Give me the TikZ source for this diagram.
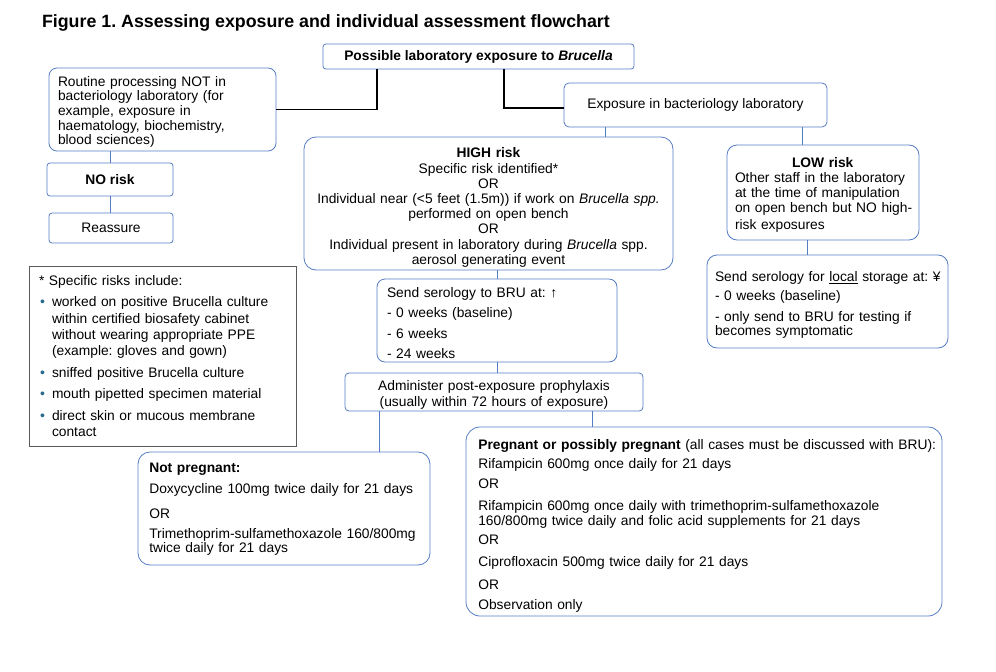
\documentclass[tikz,border=0pt]{standalone}
\usepackage{fontspec}
\setmainfont{Liberation Sans}
\usepackage{xcolor}
\frenchspacing

\definecolor{boxblue}{RGB}{84,124,196}
\definecolor{notegray}{RGB}{90,90,90}
\definecolor{dotblue}{RGB}{40,105,140}

\newcommand{\bul}{\hspace*{1pt}\makebox[12pt][l]{\textcolor{dotblue}{\fontsize{14}{14}\selectfont\textbullet}}}
\newcommand{\bulsp}{\hspace*{13pt}}

\tikzset{
  flowbox/.style={draw=boxblue, line width=0.8pt, rounded corners=#1, inner xsep=3pt, inner ysep=2pt, font=\fontsize{13.8}{14.6}\selectfont},
  flowbox/.default=8pt,
  indent/.style={align=left, execute at begin node={\leftskip=#1\rightskip=-10pt plus 1fil\relax}},
  sink/.style={execute at end node={\par\kern-#1}},
  link/.style={boxblue, line width=0.8pt},
  mainlink/.style={black, line width=1.2pt},
}

\begin{document}
\begin{tikzpicture}[x=1pt,y=-1pt]
\useasboundingbox (0,0) rectangle (996,672);

% title
\node[anchor=base west, font=\fontsize{17.8}{20}\selectfont\bfseries] (title) at (38.5,27) {Figure 1. Assessing exposure and individual assessment flowchart};

% first level
\node[flowbox=3pt, minimum width=311pt, minimum height=25pt] (possible) at (478.5,56.5) {\textbf{Possible laboratory exposure to \textit{Brucella}}};
\node[flowbox=8pt, indent=6pt, sink=5pt, text width=221pt, minimum height=83pt] (routine) at (162.5,109.5) {Routine processing NOT in\\ bacteriology laboratory (for\\ example, exposure in\\ haematology, biochemistry,\\ blood sciences)};
\node[flowbox=5pt, minimum width=263pt, minimum height=44pt] (bacti) at (695.5,105) {Exposure in bacteriology laboratory};

% no risk branch
\node[flowbox=3pt, minimum width=126pt, minimum height=33pt] (norisk) at (110,179.5) {\textbf{NO risk}};
\node[flowbox=3pt, minimum width=124pt, minimum height=30pt] (reassure) at (111,228) {Reassure};

% risk levels
\node[flowbox=12pt, align=center, sink=8pt, text width=363pt, minimum height=133pt, font=\fontsize{13.8}{15.2}\selectfont] (high) at (488.5,203.5) {\textbf{HIGH risk}\\ Specific risk identified*\\ OR\\ Individual near (<5 feet (1.5m)) if work on \textit{Brucella spp.}\\ performed on open bench\\ OR\\ Individual present in laboratory during \textit{Brucella} spp.\\ aerosol generating event};
\node[flowbox=10pt, indent=5pt, sink=5pt, text width=186pt, minimum height=95pt, font=\fontsize{13.8}{15}\selectfont] (low) at (823,192.5) {\hspace*{57pt}\textbf{LOW risk}\\ Other staff in the laboratory\\ at the time of manipulation\\ on open bench but NO high-\\[2pt] risk exposures};

% serology
\node[flowbox=8pt, indent=7pt, sink=5pt, text width=234pt, minimum height=83pt, font=\fontsize{13.8}{14.5}\selectfont] (bru) at (497,320.5) {Send serology to BRU at: ↑\\[6pt] - 0 weeks (baseline)\\[6pt] - 6 weeks\\[6pt] - 24 weeks};
\node[flowbox=10pt, indent=5pt, sink=7pt, text width=235pt, minimum height=93pt, font=\fontsize{13.8}{14.5}\selectfont] (local) at (827.5,301.5) {Send serology for \underline{local} storage at: ¥\\[4.5pt] - 0 weeks (baseline)\\[6.5pt] - only send to BRU for testing if\\ becomes symptomatic};
\node[flowbox=4pt, align=center, sink=6pt, text width=292pt, minimum height=38pt, font=\fontsize{13.8}{16}\selectfont] (pep) at (494,392) {Administer post-exposure prophylaxis\\ (usually within 72 hours of exposure)};

% specific risks note
\node[draw=notegray, line width=1pt, inner xsep=3pt, inner ysep=2pt, indent=7pt, text width=261pt, minimum height=180pt, font=\fontsize{13.8}{16.3}\selectfont] (risks) at (162.5,356) {* Specific risks include:\\[5.3pt] \bul worked on positive Brucella culture\\ \bulsp within certified biosafety cabinet\\ \bulsp without wearing appropriate PPE\\ \bulsp (example: gloves and gown)\\[5.3pt] \bul sniffed positive Brucella culture\\[5.3pt] \bul mouth pipetted specimen material\\[5.3pt] \bul direct skin or mucous membrane\\ \bulsp contact};

% prophylaxis
\node[flowbox=12pt, indent=8.3pt, sink=2pt, text width=286pt, minimum height=113pt, font=\fontsize{13.8}{14.4}\selectfont] (notpreg) at (284,508.5) {\textbf{Not pregnant:}\\[6.2pt] Doxycycline 100mg twice daily for 21 days\\[10.6pt] OR\\[5.6pt] Trimethoprim-sulfamethoxazole 160/800mg\\ twice daily for 21 days};
\node[flowbox=14pt, indent=9.3pt, sink=9pt, text width=470pt, minimum height=189pt, font=\fontsize{13.8}{14.7}\selectfont] (preg) at (704,521.5) {\textbf{Pregnant or possibly pregnant} (all cases must be discussed with BRU):\\[4.6pt] Rifampicin 600mg once daily for 21 days\\[5pt] OR\\[7.3pt] Rifampicin 600mg once daily with trimethoprim-sulfamethoxazole\\ 160/800mg twice daily and folic acid supplements for 21 days\\[4.6pt] OR\\[7pt] Ciprofloxacin 500mg twice daily for 21 days\\[8.6pt] OR\\[5.3pt] Observation only};

% connectors from the top box
\draw[mainlink] ([xshift=-101.5pt]possible.south) |- (routine.east);
\draw[mainlink] ([xshift=25.5pt]possible.south) |- ([yshift=-3pt]bacti.west);

% other connectors
\coordinate (tohigh) at ([xshift=-90.5pt]bacti.south);
\coordinate (tolow) at ([xshift=-21pt]low.north);
\coordinate (tolocal) at ([xshift=-16pt]low.south);
\coordinate (tonot) at ([xshift=-115pt]pep.south);
\coordinate (topreg) at ([xshift=98pt]pep.south);
\draw[link] (norisk.north |- routine.south) -- (norisk.north);
\draw[link] (norisk.south) -- (norisk.south |- reassure.north);
\draw[link] (tohigh) -- (tohigh |- high.north);
\draw[link] (tolow |- bacti.south) -- (tolow);
\draw[link] (tolocal) -- (tolocal |- local.north);
\draw[link] (bru.north |- high.south) -- (bru.north);
\draw[link] (bru.south) -- (bru.south |- pep.north);
\draw[link] (tonot) -- (tonot |- notpreg.north);
\draw[link] (topreg) -- (topreg |- preg.north);

\end{tikzpicture}
\end{document}
